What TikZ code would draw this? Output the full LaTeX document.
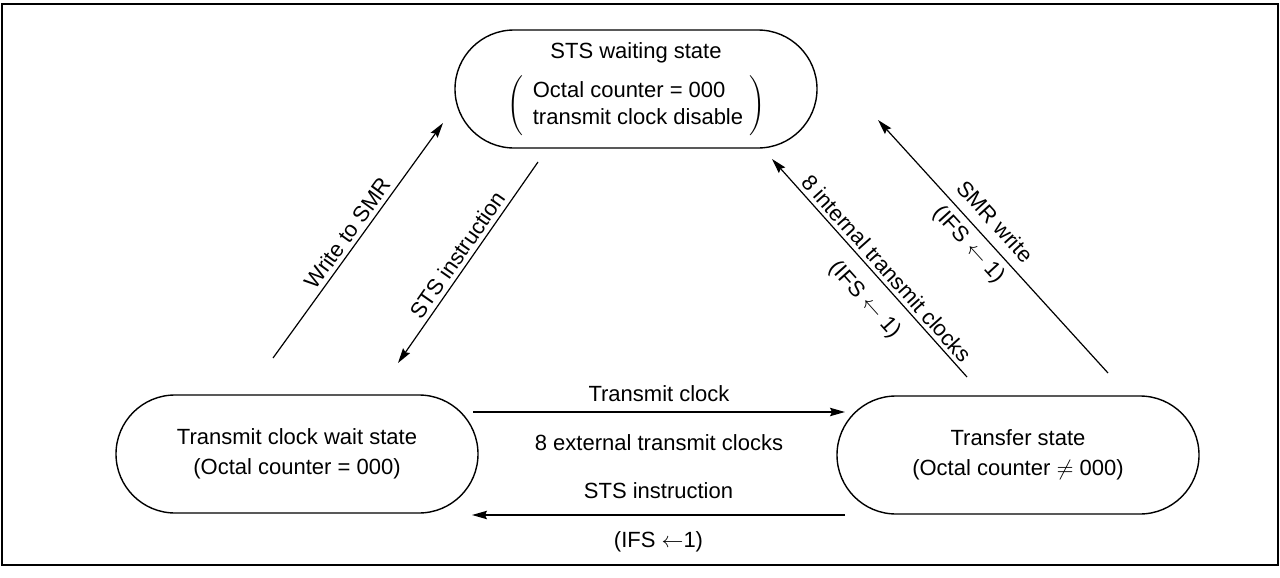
\documentclass[tikz,border=0pt]{standalone}
\usepackage{fontspec}
\setmainfont{Liberation Sans}
\usetikzlibrary{arrows.meta,shapes.misc}
\tikzset{
  state/.style={draw, rounded rectangle, inner sep=0pt, align=center, line width=0.7pt,
    minimum width=181pt, minimum height=59pt},
  trans/.style={-{Stealth[length=7.5pt,width=4.2pt,inset=1pt]}, line width=0.6pt},
  lbl/.style={inner sep=2pt},
}
\begin{document}
\begin{tikzpicture}[x=0.5pt,y=-0.5pt,font=\fontsize{11}{13.6}\selectfont]
    \useasboundingbox (0,0) rectangle (1280,578);
    \draw[line width=1pt] (2,4) rectangle (1278,565);
    % states
    \node[state] (wait) at (636,89)
      {STS waiting state\\[5pt]
       $\left(\hspace{5pt}\begin{tabular}{@{}l@{}}Octal counter = 000\\transmit clock disable\end{tabular}\hspace{3pt}\right)$};
    \node[state] (clkwait) at (297,454)
      {Transmit clock wait state\\[1.5pt](Octal counter = 000)};
    \node[state] (xfer) at (1018,455)
      {Transfer state\\[1.5pt](Octal counter $\neq$ 000)};
    % free ends of the transitions
    \coordinate (smrA) at (273,358);   \coordinate (smrB) at (443,123);
    \coordinate (stsA) at (538,162);   \coordinate (stsB) at (398,363);
    \coordinate (intA) at (967,377);   \coordinate (intB) at (772,159);
    \coordinate (wrA)  at (1108,373);  \coordinate (wrB)  at (878,120);
    \coordinate (extA) at (473,412);   \coordinate (extB) at (845,412);
    \coordinate (retA) at (845,515);   \coordinate (retB) at (472,515);
    % transitions
    \draw[trans] (smrA) -- (smrB) node[lbl, midway, sloped, above] {Write to SMR};
    \draw[trans] (stsA) -- (stsB) node[lbl, midway, sloped, above] {STS instruction};
    \draw[trans] (intA) -- (intB)
      node[lbl, pos=0.46, sloped, above] {8 internal transmit clocks}
      node[lbl, pos=0.43, sloped, below=5pt] {(IFS $\leftarrow$ 1)};
    \draw[trans] (wrA) -- (wrB)
      node[lbl, pos=0.55, sloped, above=3pt] {SMR write}
      node[lbl, pos=0.55, sloped, below=1pt] {(IFS $\leftarrow$ 1)};
    \draw[trans] (extA) -- (extB)
      node[lbl, midway, above=3pt] {Transmit clock}
      node[lbl, midway, below=9pt] {8 external transmit clocks};
    \draw[trans] (retA) -- (retB)
      node[lbl, midway, above=6pt] {STS instruction}
      node[lbl, midway, below=6pt] {(IFS $\leftarrow$1)};
\end{tikzpicture}
\end{document}
